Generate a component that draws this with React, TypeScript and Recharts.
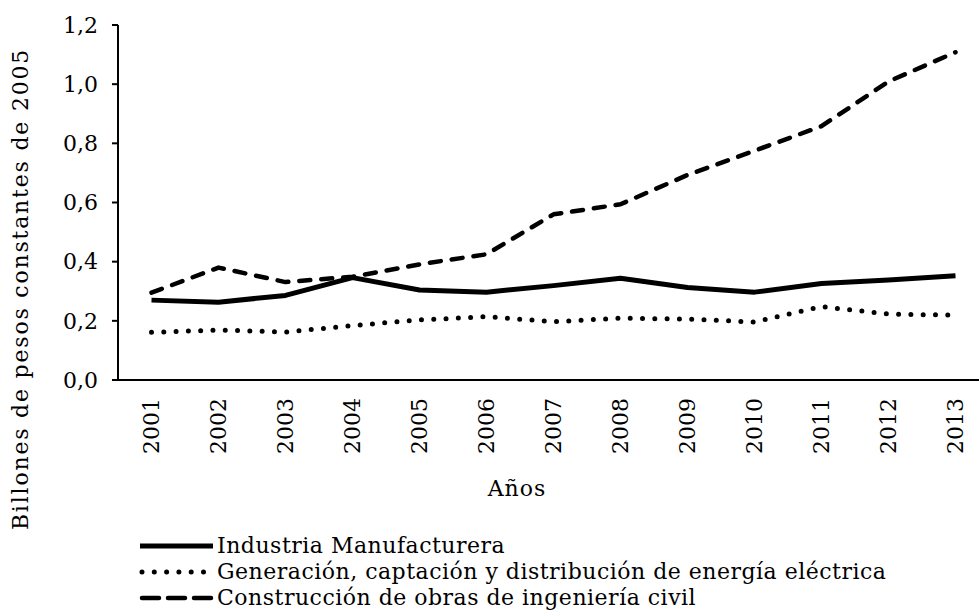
import { LineChart, Line, XAxis, YAxis, Legend, Label } from 'recharts'

const YEARS = ['2001', '2002', '2003', '2004', '2005', '2006', '2007', '2008', '2009', '2010', '2011', '2012', '2013']
const INDUSTRIA = [0.27, 0.263, 0.286, 0.346, 0.304, 0.297, 0.319, 0.344, 0.313, 0.297, 0.326, 0.338, 0.352]
const ENERGIA = [0.161, 0.169, 0.162, 0.184, 0.203, 0.214, 0.197, 0.209, 0.206, 0.196, 0.248, 0.223, 0.219]
const CIVIL = [0.295, 0.38, 0.331, 0.349, 0.391, 0.425, 0.56, 0.594, 0.693, 0.775, 0.858, 1.009, 1.108]
const Y_TICKS = [0, 0.2, 0.4, 0.6, 0.8, 1.0, 1.2]
const EDGE_TICKS = [0, 1, 2, 3, 4, 5, 6, 7, 8, 9, 10, 11, 12, 13]

const SERIES = [
  { key: 'industria', name: 'Industria Manufacturera', width: 5, dash: undefined as string | undefined, legendDash: undefined as string | undefined },
  { key: 'energia', name: 'Generación, captación y distribución de energía eléctrica', width: 5, dash: '0 12.3', legendDash: '0 12.3' },
  { key: 'civil', name: 'Construcción de obras de ingeniería civil', width: 4.5, dash: '11 11', legendDash: '17 9' },
]

const FONT = '"DejaVu Serif", serif'
const W = 1000
const H = 611
const LEFT = 118
const RIGHT = 11
const BAND = (W - LEFT - RIGHT) / YEARS.length

const data = YEARS.map((year, i) => ({
  year,
  industria: INDUSTRIA[i],
  energia: ENERGIA[i],
  civil: CIVIL[i],
}))

const fmt = (v: number) => v.toFixed(1).replace('.', ',')

function YearTick({ x, y, payload }: any) {
  return (
    <text
      transform={`translate(${x},${y + 10}) rotate(-90)`}
      textAnchor="end"
      dominantBaseline="central"
      fontFamily={FONT}
      fontSize={22}
      fill="#000"
    >
      {payload.value}
    </text>
  )
}

function renderLegend() {
  return (
    <div style={{ fontFamily: FONT, fontSize: 22, letterSpacing: 0.5, color: '#000', lineHeight: '26px' }}>
      {SERIES.map((s) => (
        <div key={s.key} style={{ display: 'flex', alignItems: 'center', height: 26 }}>
          <svg width={89} height={12} style={{ marginRight: 2 }}>
            <line
              x1={s.dash ? 16 : 14}
              y1={6}
              x2={87}
              y2={6}
              stroke="#000"
              strokeWidth={s.width}
              strokeDasharray={s.legendDash}
              strokeLinecap={s.dash ? 'round' : 'butt'}
            />
          </svg>
          <span>{s.name}</span>
        </div>
      ))}
    </div>
  )
}

export default function App() {
  return (
    <div style={{ position: 'absolute', left: 0, top: 0, width: 979, height: 611, overflow: 'hidden', background: '#fff' }}>
      <LineChart width={W} height={H} data={data} margin={{ top: 25, right: RIGHT, left: 0, bottom: 121 }}>
        <XAxis
          xAxisId="edges"
          type="number"
          dataKey="none"
          domain={[0, 13]}
          ticks={EDGE_TICKS}
          tick={false}
          axisLine={false}
          tickLine={{ stroke: '#000', strokeWidth: 2 }}
          tickSize={7}
          height={0}
        />
        <XAxis
          dataKey="year"
          interval={0}
          padding={{ left: BAND / 2, right: BAND / 2 }}
          axisLine={{ stroke: '#000', strokeWidth: 2 }}
          tickLine={false}
          tick={<YearTick />}
          height={110}
        >
          <Label
            content={() => (
              <text x={517} y={488} textAnchor="middle" dominantBaseline="central" fontFamily={FONT} fontSize={22} letterSpacing={1} fill="#000">
                Años
              </text>
            )}
          />
        </XAxis>
        <YAxis
          domain={[0, 1.2]}
          ticks={Y_TICKS}
          tickFormatter={fmt}
          width={LEFT}
          axisLine={{ stroke: '#000', strokeWidth: 2 }}
          tickLine={{ stroke: '#000', strokeWidth: 2 }}
          tickSize={6}
          tickMargin={14}
          tick={{ fontFamily: FONT, fontSize: 22, fill: '#000' }}
        >
          <Label
            content={() => (
              <text
                transform="translate(20,289) rotate(-90)"
                textAnchor="middle"
                dominantBaseline="central"
                fontFamily={FONT}
                fontSize={22}
                letterSpacing={1.8}
                fill="#000"
              >
                Billones de pesos constantes de 2005
              </text>
            )}
          />
        </YAxis>
        <Legend
          content={renderLegend}
          layout="horizontal"
          verticalAlign="middle"
          align="center"
          wrapperStyle={{ left: 126, top: 533, width: 820 }}
        />
        {SERIES.map((s) => (
          <Line
            key={s.key}
            dataKey={s.key}
            name={s.name}
            type="linear"
            stroke="#000"
            strokeWidth={s.width}
            strokeDasharray={s.dash}
            strokeLinecap={s.dash ? 'round' : 'butt'}
            strokeLinejoin="round"
            dot={false}
            activeDot={false}
            isAnimationActive={false}
          />
        ))}
      </LineChart>
    </div>
  )
}
